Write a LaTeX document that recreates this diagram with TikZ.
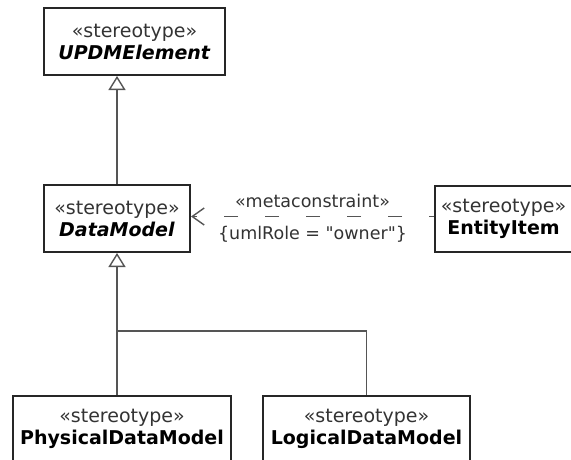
\documentclass[tikz,border=0pt]{standalone}
\usepackage{fontspec}
\setmainfont{DejaVu Sans}[Ligatures=TeXOff]
\usepackage{tikz}
\usetikzlibrary{positioning, arrows.meta, calc}

\definecolor{stereo}{HTML}{333333}
\definecolor{edge}{HTML}{555555}

\begin{document}
\begin{tikzpicture}[
    box/.style={rectangle, draw=black!85, line width=2pt, minimum height=67pt, inner sep=1pt, font=\fontsize{19}{22}\selectfont, align=center},
    gen/.style={-{Triangle[open, length=14pt, width=17pt, fill=white, line width=1.4pt]}, draw=edge, line width=1.8pt},
    dep/.style={-{Straight Barb[length=12pt, width=17pt, line width=1.4pt]}, draw=edge, line width=1.8pt, dash pattern=on 14pt off 27pt, dash phase=9pt},
    lbl/.style={font=\fontsize{17.5}{20}\selectfont, text=stereo}
]
    \useasboundingbox (0,0) rectangle (571pt,-459pt);

    \node[box, minimum width=181pt] (updm) at (134.5pt,-41.5pt) {{\color{stereo}«stereotype»}\\\textbf{\itshape UPDMElement}};
    \node[box, minimum width=146pt, below=108pt of updm.south west, anchor=north west] (dm) {{\color{stereo}«stereotype»}\\\textbf{\itshape DataModel}};
    \node[box, minimum width=137pt, minimum height=66pt, right=243pt of dm] (ent) {{\color{stereo}«stereotype»}\\\textbf{EntityItem}};
    \node[box, minimum width=218pt, minimum height=66pt, below=142pt of dm.south west, anchor=north west, xshift=-31pt] (phys) {{\color{stereo}«stereotype»}\\\textbf{PhysicalDataModel}};
    \node[box, minimum width=207pt, minimum height=66pt, right=30pt of phys] (logi) {{\color{stereo}«stereotype»}\\\textbf{LogicalDataModel}};

    \coordinate (join) at ($(dm.south)+(0,-78pt)$);

    \draw[gen] (dm.north) -- (dm.north |- updm.south);
    \draw[gen] (phys.north -| dm.south) -- (dm.south);
    \draw[draw=edge, line width=1.8pt] (logi.north) |- (join);

    \draw[dep] ([yshift=2pt]ent.west) -- ([yshift=2pt]ent.west -| dm.east)
        node[lbl, midway, above=5pt] (mc) {«metaconstraint»}
        node[lbl, midway, below=5pt] (role) {\{umlRole = "owner"\}};
\end{tikzpicture}
\end{document}
